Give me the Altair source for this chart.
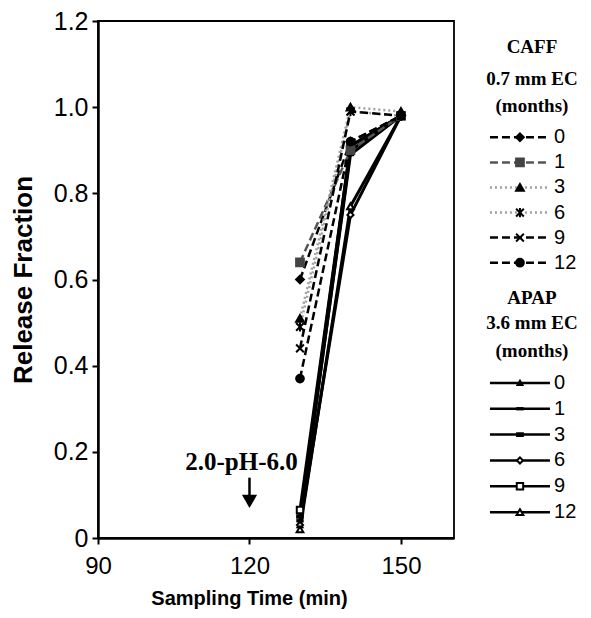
import altair as alt
import pandas as pd

# ---------------- data ----------------
months = ["0", "1", "3", "6", "9", "12"]
times = [130, 140, 150]

caff_0 = [0.60, 0.92, 0.98]
caff_1 = [0.64, 0.90, 0.98]
caff_3 = [0.51, 1.00, 0.99]
caff_6 = [0.49, 0.99, 0.98]
caff_9 = [0.44, 0.99, 0.98]
caff_12 = [0.37, 0.92, 0.98]

apap_0 = [0.03, 0.90, 0.98]
apap_1 = [0.04, 0.89, 0.98]
apap_3 = [0.05, 0.91, 0.98]
apap_6 = [0.03, 0.75, 0.98]
apap_9 = [0.065, 0.91, 0.98]
apap_12 = [0.02, 0.77, 0.98]

x_ticks = [90, 120, 150]
y_ticks = [0, 0.2, 0.4, 0.6, 0.8, 1.0, 1.2]

annot_text = ["2.0-pH-6.0"]
annot_time = [120]

caff_title = ["CAFF", "0.7 mm EC", "(months)"]
apap_title = ["APAP", "3.6 mm EC", "(months)"]

# ---------------- styles ----------------
X_PATH = "M-1,-1L1,1M-1,1L1,-1"
ASTER = "M-1,-1L1,1M-1,1L1,-1M0,-1.2L0,1.2"
BAR_THIN = "M-1,-0.25H1V0.25H-1Z"
BAR = "M-1,-0.45H1V0.45H-1Z"

caff_shapes = ["diamond", "square", "triangle-up", ASTER, X_PATH, "circle"]
caff_colors = ["black", "#555555", "#a0a0a0", "#a0a0a0", "black", "black"]
caff_mark_colors = ["black", "#444444", "black", "black", "black", "black"]
caff_dashes = [[8, 4], [8, 4], [2, 3], [2, 3], [8, 4], [8, 4]]
apap_shapes = ["triangle-up", BAR_THIN, BAR, "diamond", "square", "triangle-up"]
apap_fills = ["black", "black", "black", "white", "white", "white"]
apap_sizes = [25, 45, 60, 60, 60, 60]

caff_series = [caff_0, caff_1, caff_3, caff_6, caff_9, caff_12]
apap_series = [apap_0, apap_1, apap_3, apap_6, apap_9, apap_12]

df_caff = pd.DataFrame([
    {"CAFF": m, "time": t, "value": v}
    for m, s in zip(months, caff_series) for t, v in zip(times, s)
])
df_apap = pd.DataFrame([
    {"APAP": m, "time": t, "value": v}
    for m, s in zip(months, apap_series) for t, v in zip(times, s)
])

SANS = "Liberation Sans"
SERIF = "Liberation Serif"

xs = alt.Scale(domain=[90, 160.5], nice=False, zero=False)
ys = alt.Scale(domain=[0, 1.2], nice=False)

X = alt.X("time:Q", scale=xs, axis=alt.Axis(
    values=x_ticks, title="Sampling Time (min)", titleX=151,
    labelFontSize=24, labelFont=SANS, labelPadding=10, tickSize=6, labelFlush=False,
    titleFontSize=20, titleFont=SANS, titleFontWeight="bold", titlePadding=10,
    grid=False, domainColor="black", domainWidth=2.5, tickColor="black",
    tickWidth=2, labelColor="black", titleColor="black"))
Y = alt.Y("value:Q", scale=ys, axis=alt.Axis(
    values=y_ticks, title="Release Fraction",
    labelExpr="datum.value == 0 ? '0' : format(datum.value, '.1f')",
    labelFontSize=25, labelFont=SANS, labelPadding=4, tickSize=6, labelFlush=False,
    titleFontSize=26, titleFont=SANS, titleFontWeight="bold",
    titleX=-75, titleBaseline="middle",
    grid=False, domainColor="black", domainWidth=2.5, tickColor="black",
    tickWidth=2, labelColor="black", titleColor="black"))

caff_dash = alt.StrokeDash("CAFF:N", scale=alt.Scale(domain=months, range=caff_dashes), legend=None)
caff_col = alt.Color("CAFF:N", scale=alt.Scale(domain=months, range=caff_colors), legend=None)
caff_mcol = alt.Color("CAFF:N", scale=alt.Scale(domain=months, range=caff_mark_colors), legend=None)
caff_fill = alt.Fill("CAFF:N", scale=alt.Scale(domain=months, range=caff_mark_colors), legend=None)
caff_shape = alt.Shape("CAFF:N", scale=alt.Scale(domain=months, range=caff_shapes), legend=None)
apap_fill = alt.Fill("APAP:N", scale=alt.Scale(domain=months, range=apap_fills), legend=None)
apap_shape = alt.Shape("APAP:N", scale=alt.Scale(domain=months, range=apap_shapes), legend=None)
apap_size = alt.Size("APAP:N", scale=alt.Scale(domain=months, range=apap_sizes), legend=None)

caff_line = alt.Chart(df_caff).mark_line(strokeWidth=2.5).encode(
    x=X, y=Y, detail="CAFF:N", strokeDash=caff_dash, color=caff_col)
caff_pts = alt.Chart(df_caff).mark_point(filled=False, size=60, strokeWidth=2, opacity=1).encode(
    x=X, y=Y, shape=caff_shape, color=caff_mcol, fill=caff_fill)
apap_line = alt.Chart(df_apap).mark_line(strokeWidth=3, color="black").encode(
    x=X, y=Y, detail="APAP:N")
apap_pts = alt.Chart(df_apap).mark_point(filled=False, strokeWidth=2, opacity=1, color="black").encode(
    x=X, y=Y, shape=apap_shape, fill=apap_fill, size=apap_size)

df_annot = pd.DataFrame({"time": annot_time, "label": annot_text})
annot_txt = alt.Chart(df_annot).mark_text(
    font=SERIF, fontWeight="bold", fontSize=25, color="black", baseline="middle", dx=-8
).encode(x=alt.X("time:Q", scale=xs), y=alt.datum(0.176), text="label:N")
annot_shaft = alt.Chart(df_annot).mark_rule(strokeWidth=2.5, color="black").encode(
    x=alt.X("time:Q", scale=xs), y=alt.datum(0.14), y2=alt.datum(0.09))
annot_head = alt.Chart(df_annot).mark_point(
    shape="triangle-down", filled=True, size=230, color="black", opacity=1
).encode(x=alt.X("time:Q", scale=xs), y=alt.datum(0.085))

main = alt.layer(
    apap_line, caff_line, apap_pts, caff_pts, annot_shaft, annot_head, annot_txt
).resolve_scale(
    shape="independent", fill="independent", color="independent",
    strokeDash="independent", size="independent"
).properties(width=356, height=517,
             view=alt.ViewBackground(stroke="black", strokeWidth=1.8))

# ---------------- legend panel ----------------
LX0, LX1, LXM, LXL, LXT = 0.233, 0.733, 0.483, 0.767, 0.583
caff_title_slots = [1.0, 2.25, 3.3]
caff_entry_slots = [4.5, 5.47, 6.44, 7.41, 8.38, 9.35]
apap_title_slots = [10.7, 11.7, 12.75]
apap_entry_slots = [14.0, 15.0, 16.0, 17.0, 18.0, 19.0]

lxs = alt.Scale(domain=[0, 1], nice=False)
lys = alt.Scale(domain=[0, 20], nice=False, reverse=True)

df_lc = pd.DataFrame({"CAFF": months, "slot": caff_entry_slots})
df_lc["x0"], df_lc["x1"], df_lc["xm"], df_lc["xl"] = LX0, LX1, LXM, LXL
df_la = pd.DataFrame({"APAP": months, "slot": apap_entry_slots})
df_la["x0"], df_la["x1"], df_la["xm"], df_la["xl"] = LX0, LX1, LXM, LXL
df_lt = pd.DataFrame({"t": caff_title + apap_title,
                      "slot": caff_title_slots + apap_title_slots})
df_lt["xt"] = LXT

LXe = alt.X("x0:Q", scale=lxs, axis=None)
LYe = alt.Y("slot:Q", scale=lys, axis=None)

lc_rule = alt.Chart(df_lc).mark_rule(strokeWidth=2.5).encode(
    x=LXe, x2="x1:Q", y=LYe, strokeDash=caff_dash, color=caff_col)
lc_pt = alt.Chart(df_lc).mark_point(filled=False, size=60, strokeWidth=2, opacity=1).encode(
    x=alt.X("xm:Q", scale=lxs, axis=None), y=LYe, shape=caff_shape, color=caff_mcol, fill=caff_fill)
lc_txt = alt.Chart(df_lc).mark_text(align="left", baseline="middle", font=SANS, fontSize=20, color="black").encode(
    x=alt.X("xl:Q", scale=lxs, axis=None), y=LYe, text="CAFF:N")
la_rule = alt.Chart(df_la).mark_rule(strokeWidth=2.5, color="black").encode(
    x=LXe, x2="x1:Q", y=LYe)
la_pt = alt.Chart(df_la).mark_point(filled=False, strokeWidth=2, opacity=1, color="black").encode(
    x=alt.X("xm:Q", scale=lxs, axis=None), y=LYe, shape=apap_shape, fill=apap_fill, size=apap_size)
la_txt = alt.Chart(df_la).mark_text(align="left", baseline="middle", font=SANS, fontSize=20, color="black").encode(
    x=alt.X("xl:Q", scale=lxs, axis=None), y=LYe, text="APAP:N")
lt_txt = alt.Chart(df_lt).mark_text(align="center", baseline="middle", font=SERIF, fontWeight="bold",
                                    fontSize=19, color="black").encode(
    x=alt.X("xt:Q", scale=lxs, axis=None), y=LYe, text="t:N")

legend = alt.layer(lc_rule, la_rule, lc_pt, la_pt, lc_txt, la_txt, lt_txt).resolve_scale(
    shape="independent", fill="independent", color="independent",
    strokeDash="independent", size="independent"
).properties(width=120, height=517,
             view=alt.ViewBackground(stroke="transparent", strokeWidth=0))

chart = alt.hconcat(main, legend, spacing=7).properties(
    padding={"left": 1, "top": 0, "right": 0, "bottom": 0}
).configure_view(stroke="transparent").configure(background="white")

chart.save("out.html", embed_options={"renderer": "svg", "actions": False})
